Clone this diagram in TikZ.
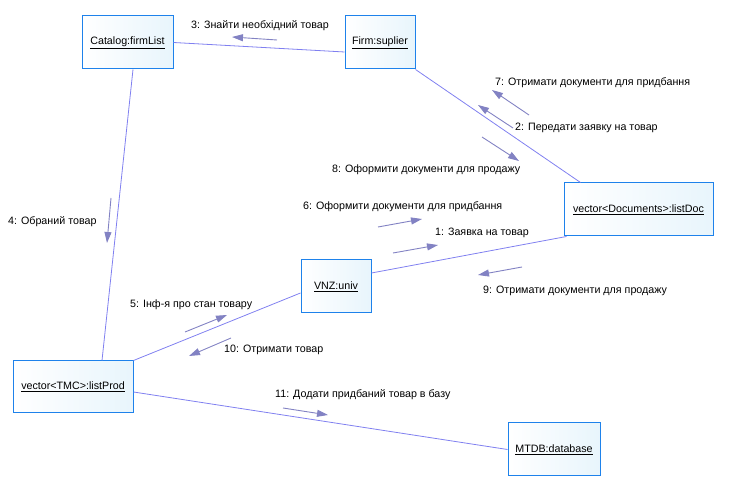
\documentclass[tikz,border=0pt]{standalone}
\usepackage{fontspec}
\setmainfont{Liberation Sans}
\usetikzlibrary{arrows.meta, positioning, calc}
\definecolor{objborder}{RGB}{30,130,235}
\definecolor{objfill}{RGB}{232,245,252}
\definecolor{linkcol}{RGB}{128,128,240}
\definecolor{msgcol}{RGB}{130,130,195}
\tikzset{%
	obj/.style={draw=objborder, line width=1pt, rectangle, minimum height=53pt,%
		inner sep=0pt, left color=white, right color=objfill, font=\fontsize{10.7}{12}\selectfont},
	link/.style={draw=linkcol, line width=0.8pt},
	msg/.style={draw=msgcol, line width=0.9pt, -{Triangle[length=11pt, width=7pt]}},
	lbl/.style={anchor=west, inner sep=0pt, font=\fontsize{10.7}{12}\selectfont}
}
\begin{document}
\begin{tikzpicture}[x=1pt, y=-1pt]
	\useasboundingbox (0,0) rectangle (732,494);
	% objects
	\node[obj, minimum width=91pt] (cat) at (127.5,42.5) {\underline{Catalog:firmList}};
	\node[obj, minimum width=70pt] (firm) at (380,42.5) {\underline{Firm:suplier}};
	\node[obj, minimum width=149pt] (doc) at (638.5,209.5) {\underline{vector<Documents>:listDoc}};
	\node[obj, minimum width=70pt] (univ) at (336,286.5) {\underline{VNZ:univ}};
	\node[obj, minimum width=120pt, minimum height=52pt] (prod) at (73,387) {\underline{vector<TMC>:listProd}};
	\node[obj, minimum width=92pt] (db) at (554,449.5) {\underline{MTDB:database}};
	
	% links
	\draw[link] (cat.east) -- ([yshift=-9.5pt]firm.west);
	\draw[link] (firm.south east) -- ([xshift=17pt]doc.north west);
	\draw[link] ([xshift=5.5pt]cat.south) -- ([xshift=29pt]prod.north);
	\draw[link] ([xshift=3pt]doc.south west) -- ([yshift=13.5pt]univ.east);
	\draw[link] ([yshift=-6.5pt]univ.west) -- (prod.north east);
	\draw[link] ([yshift=-5pt]prod.east) -- (db.west);
	
	% messages
	\coordinate (m3a) at (277,40);  \coordinate (m3b) at (232,37);
	\coordinate (m7a) at (529,115); \coordinate (m7b) at (492,90);
	\coordinate (m2a) at (513,128); \coordinate (m2b) at (478,105);
	\coordinate (m8a) at (482,137); \coordinate (m8b) at (519,161);
	\coordinate (m6a) at (378,227); \coordinate (m6b) at (422,219);
	\coordinate (m1a) at (393,253); \coordinate (m1b) at (438,245);
	\coordinate (m9a) at (522,267); \coordinate (m9b) at (478,275);
	\coordinate (m4a) at (111,198); \coordinate (m4b) at (107,243);
	\coordinate (m5a) at (185,332); \coordinate (m5b) at (227,315);
	\coordinate (m10a) at (231,338); \coordinate (m10b) at (189,356);
	\coordinate (m11a) at (283,408); \coordinate (m11b) at (328,415);
	\foreach \m in {3,7,2,8,6,1,9,4,5,10,11}
		\draw[msg] (m\m a) -- (m\m b);
	
	\node[lbl] (l3) at (191,26) {3: Знайти необхідний товар};
	\node[lbl] (l7) at (495,83) {7: Отримати документи для придбання};
	\node[lbl] (l2) at (515,128) {2: Передати заявку на товар};
	\node[lbl] (l8) at (332,170) {8: Оформити документи для продажу};
	\node[lbl] (l6) at (303,207) {6: Оформити документи для придбання};
	\node[lbl] (l1) at (435,233) {1: Заявка на товар};
	\node[lbl] (l9) at (483,291) {9: Отримати документи для продажу};
	\node[lbl] (l4) at (8,222) {4: Обраний товар};
	\node[lbl] (l5) at (130,305) {5: Інф-я про стан товару};
	\node[lbl] (l10) at (224,350) {10: Отримати товар};
	\node[lbl] (l11) at (275,395) {11: Додати придбаний товар в базу};
\end{tikzpicture}
\end{document}
